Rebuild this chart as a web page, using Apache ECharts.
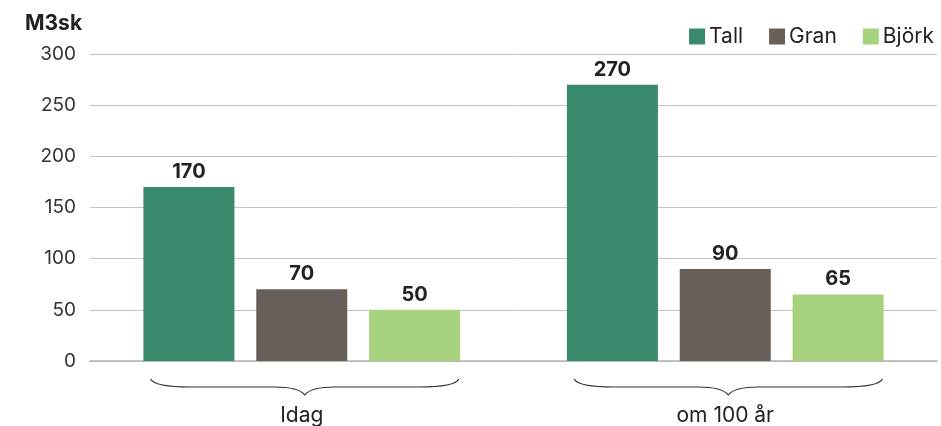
<!DOCTYPE html>
<html>
<head>
<meta charset="utf-8">
<script src="https://cdn.jsdelivr.net/npm/echarts@6/dist/echarts.min.js"></script>
<style>
  html, body { margin: 0; padding: 0; background: #fff; }
  #chart { width: 941px; height: 426px; }
</style>
</head>
<body>
<div id="chart"></div>
<script>
const categories = ["Idag", "om 100 år"];
const seriesNames = ["Tall", "Gran", "Björk"];
const tallValues = [170, 270];
const granValues = [70, 90];
const bjorkValues = [50, 65];
const yTicks = { min: 0, max: 300, interval: 50 };

const colors = ["#388a6a", "#695f59", "#a6d27d"];
const font = "Inter, 'Liberation Sans', sans-serif";

const chart = echarts.init(document.getElementById("chart"));

function barSeries(name, data, color) {
  return {
    name: name,
    type: "bar",
    data: data,
    barWidth: 91,
    barGap: "24%",
    itemStyle: { color: color },
    label: {
      show: true,
      position: "top",
      distance: 5,
      fontFamily: font,
      fontSize: 20,
      fontWeight: "bold",
      color: "#222"
    }
  };
}

// curly brace under each category group
function renderBrace(params, api) {
  const base = api.coord([api.value(0), 0]);
  const band = api.size([1, 0])[0];
  const cx = base[0] + 3;
  const hw = band * 0.364;
  const x0 = cx - hw, x1 = cx + hw;
  const yEnd = base[1] + 18, yLine = base[1] + 26, yTip = base[1] + 34;
  const d = [
    "M", x0, yEnd,
    "Q", x0 + 4, yLine, x0 + 40, yLine,
    "L", cx - 30, yLine,
    "Q", cx - 6, yLine, cx, yTip,
    "Q", cx + 6, yLine, cx + 30, yLine,
    "L", x1 - 40, yLine,
    "Q", x1 - 4, yLine, x1, yEnd
  ].join(" ");
  return {
    type: "path",
    shape: { pathData: d },
    style: { fill: null, stroke: "#333", lineWidth: 1.2 }
  };
}

chart.setOption({
  animation: false,
  textStyle: { fontFamily: font },
  title: {
    text: "M3sk",
    left: 20,
    top: 8,
    textStyle: { fontFamily: font, fontSize: 21, fontWeight: "bold", color: "#222" }
  },
  legend: {
    data: seriesNames,
    right: 2,
    top: 21,
    itemWidth: 16,
    itemHeight: 16,
    itemGap: 26,
    icon: "rect",
    textStyle: { fontFamily: font, fontSize: 21, color: "#222", padding: [0, 0, 0, -1] }
  },
  grid: { left: 90, right: 4, top: 54, bottom: 65, containLabel: false },
  xAxis: {
    type: "category",
    data: categories,
    axisTick: { show: false },
    axisLine: { lineStyle: { color: "#b4b4b4", width: 1.5 } },
    axisLabel: { margin: 44, fontFamily: font, fontSize: 21, color: "#222" }
  },
  yAxis: {
    type: "value",
    min: yTicks.min,
    max: yTicks.max,
    interval: yTicks.interval,
    axisLine: { show: false },
    axisTick: { show: false },
    splitLine: { lineStyle: { color: "#c4c4c4", width: 1 } },
    axisLabel: { margin: 14, fontFamily: font, fontSize: 19, color: "#333" }
  },
  series: [
    barSeries(seriesNames[0], tallValues, colors[0]),
    barSeries(seriesNames[1], granValues, colors[1]),
    barSeries(seriesNames[2], bjorkValues, colors[2]),
    {
      type: "custom",
      name: "brace",
      renderItem: renderBrace,
      data: categories.map((c, i) => [i, 0]),
      clip: false,
      silent: true,
      z: 1
    }
  ]
});
</script>
</body>
</html>
